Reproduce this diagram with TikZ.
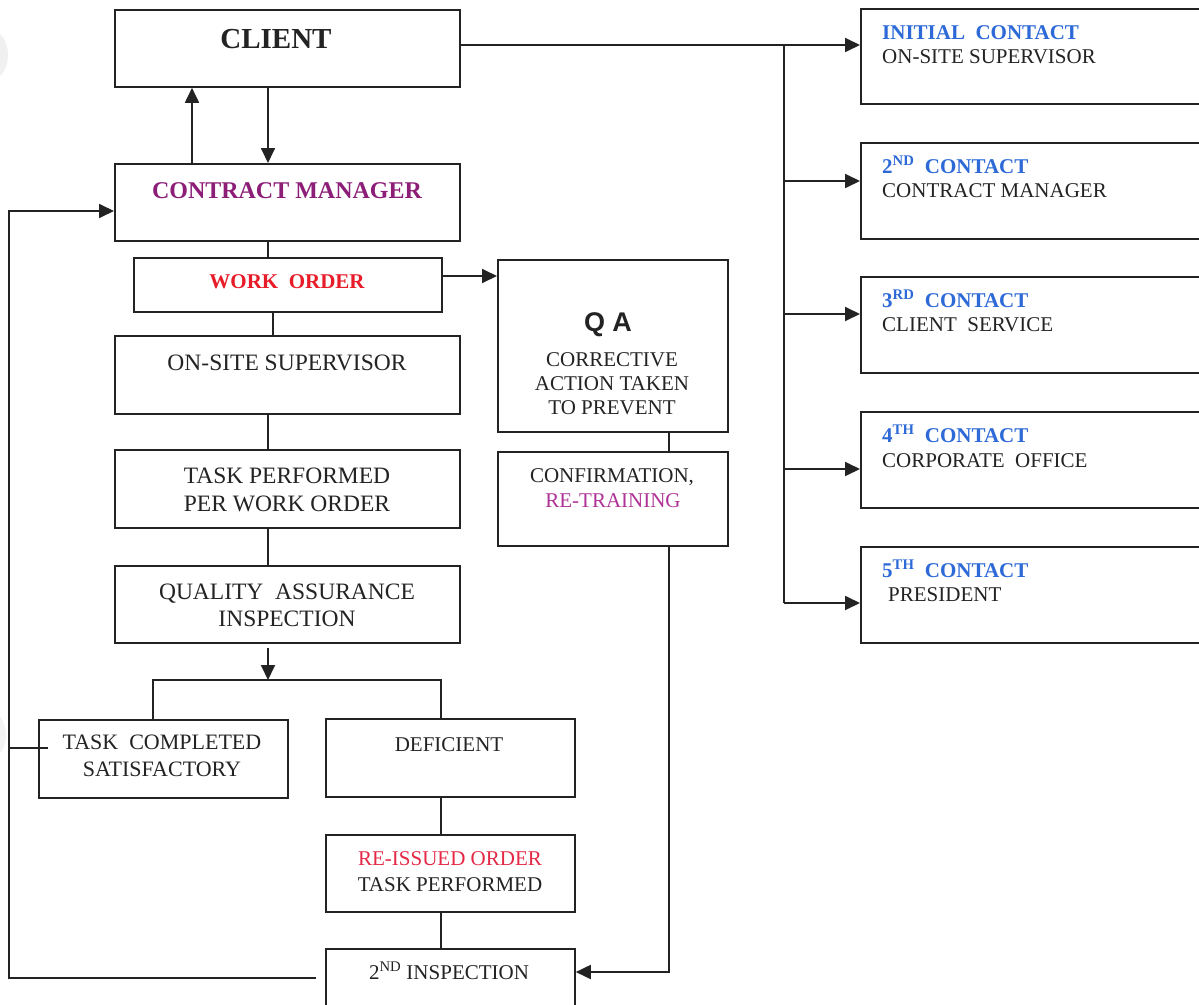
\documentclass[tikz,border=0pt]{standalone}
\usepackage{fontspec}
\setmainfont{Liberation Serif}
\newfontfamily\qafont{Liberation Sans}
\usetikzlibrary{arrows.meta}
\definecolor{cmpurple}{RGB}{140,30,120}
\definecolor{trpurple}{RGB}{175,50,150}
\definecolor{wored}{RGB}{232,28,40}
\definecolor{rired}{RGB}{228,40,70}
\definecolor{cblue}{RGB}{45,105,215}
\definecolor{ink}{RGB}{35,35,35}
\tikzset{
  box/.style={draw=ink, line width=1.8pt, inner sep=0pt, anchor=north west},
  ln/.style={draw=ink, line width=1.8pt},
  arr/.style={ln, -{Triangle[length=15pt,width=14pt]}},
  txt/.style={inner sep=0pt, anchor=base, text=ink, font=\fontsize{21}{25}\selectfont},
  txtl/.style={txt, anchor=base west},
  big/.style={txt, font=\fontsize{23.5}{28}\selectfont},
  head/.style={txtl, text=cblue, font=\fontsize{21}{25}\selectfont\bfseries},
}
\begin{document}
\begin{tikzpicture}[x=1pt,y=-1pt]
\useasboundingbox (0,0) rectangle (1199,1004);
\fill[white] (0,0) rectangle (1199,1004);
% faint scan shadows at the left edge
\fill[gray!12] (-8,55) ellipse (16 and 24);
\fill[gray!10] (-8,735) ellipse (14 and 22);

% ---------- boxes ----------
\node[box, minimum width=345pt, minimum height=77pt] (client) at (114,9) {};
\node[box, minimum width=345pt, minimum height=77pt] (cm) at (114,163) {};
\node[box, minimum width=308pt, minimum height=54pt] (wo) at (133,257) {};
\node[box, minimum width=345pt, minimum height=78pt] (oss) at (114,335) {};
\node[box, minimum width=345pt, minimum height=78pt] (tp) at (114,449) {};
\node[box, minimum width=345pt, minimum height=77pt] (qai) at (114,565) {};
\node[box, minimum width=249pt, minimum height=78pt] (tc) at (38,719) {};
\node[box, minimum width=249pt, minimum height=78pt] (def) at (325,718) {};
\node[box, minimum width=249pt, minimum height=77pt] (rei) at (325,834) {};
\node[box, minimum width=249pt, minimum height=70pt] (insp) at (325,948) {};
\node[box, minimum width=230pt, minimum height=172pt] (qa) at (497,259) {};
\node[box, minimum width=230pt, minimum height=94pt] (conf) at (497,451) {};
\node[box, minimum width=360pt, minimum height=95pt] (c1) at (860,8) {};
\node[box, minimum width=360pt, minimum height=96pt] (c2) at (860,142) {};
\node[box, minimum width=360pt, minimum height=96pt] (c3) at (860,276) {};
\node[box, minimum width=360pt, minimum height=96pt] (c4) at (860,411) {};
\node[box, minimum width=360pt, minimum height=96pt] (c5) at (860,546) {};

% ---------- texts ----------
\node[txt, font=\fontsize{29}{34}\selectfont\bfseries] (client-t) at (276,48) {CLIENT};
\node[txt, text=cmpurple, font=\fontsize{24}{28}\selectfont\bfseries] (cm-t) at (287,198) {CONTRACT MANAGER};
\node[txt, text=wored, font=\fontsize{21}{25}\selectfont\bfseries] (wo-t) at (287,288) {WORK\ \ ORDER};
\node[big] (oss-t) at (287,370) {ON-SITE SUPERVISOR};
\node[big] (tp-t1) at (287,483) {TASK PERFORMED};
\node[big] (tp-t2) at (287,511) {PER WORK ORDER};
\node[big] (qai-t1) at (287,599) {QUALITY\ \ ASSURANCE};
\node[big] (qai-t2) at (287,626) {INSPECTION};
\node[txt, font=\fontsize{22}{26}\selectfont] (tc-t1) at (162,749) {TASK\ \ COMPLETED};
\node[txt, font=\fontsize{22}{26}\selectfont] (tc-t2) at (162,776) {SATISFACTORY};
\node[txt] (def-t) at (449,751) {DEFICIENT};
\node[txt, text=rired] (rei-t1) at (450,865) {RE-ISSUED ORDER};
\node[txt] (rei-t2) at (450,891) {TASK PERFORMED};
\node[txt] (insp-t) at (449,979) {2\textsuperscript{ND} INSPECTION};
\node[txt, font=\fontsize{27}{31}\qafont\bfseries] (qa-t0) at (608,331) {Q A};
\node[txt] (qa-t1) at (612,366) {CORRECTIVE};
\node[txt] (qa-t2) at (612,390) {ACTION TAKEN};
\node[txt] (qa-t3) at (612,414) {TO PREVENT};
\node[txt] (conf-t1) at (612,482) {CONFIRMATION,};
\node[txt, text=trpurple] (conf-t2) at (613,507) {RE-TRAINING};

\node[head] (c1-h) at (882,39) {INITIAL\ \ CONTACT};
\node[txtl] (c1-t) at (882,63) {ON-SITE SUPERVISOR};
\node[head] (c2-h) at (882,173) {2\textsuperscript{ND}\ \ CONTACT};
\node[txtl] (c2-t) at (882,197) {CONTRACT MANAGER};
\node[head] (c3-h) at (882,307) {3\textsuperscript{RD}\ \ CONTACT};
\node[txtl] (c3-t) at (882,331) {CLIENT\ \ SERVICE};
\node[head] (c4-h) at (882,442) {4\textsuperscript{TH}\ \ CONTACT};
\node[txtl] (c4-t) at (882,467) {CORPORATE\ \ OFFICE};
\node[head] (c5-h) at (882,577) {5\textsuperscript{TH}\ \ CONTACT};
\node[txtl] (c5-t) at (888,601) {PRESIDENT};

% ---------- helper coordinates ----------
\coordinate (xa) at (268,0);
\coordinate (xb) at (192,0);
\coordinate (xw) at (273,0);
\coordinate (xl) at (153,0);
\coordinate (xr) at (441,0);
\coordinate (xq) at (669,0);
\coordinate (xf) at (9,0);
\coordinate (xt) at (784,0);
\coordinate (br) at (268,680);
\coordinate (ywo) at (0,276);
\coordinate (yi) at (0,972);
\coordinate (yb) at (0,978);
\coordinate (yt) at (0,748);
\coordinate (yc) at (0,211);
\coordinate (y1) at (0,45);
\coordinate (y2) at (0,181);
\coordinate (y3) at (0,314);
\coordinate (y4) at (0,469);
\coordinate (y5) at (0,603);

% ---------- connectors ----------
\draw[arr] (client.south -| xa) -- (cm.north -| xa);
\draw[arr] (cm.north -| xb) -- (client.south -| xb);
\draw[ln] (cm.south -| xa) -- (wo.north -| xa);
\draw[ln] (wo.south -| xw) -- (oss.north -| xw);
\draw[ln] (oss.south -| xa) -- (tp.north -| xa);
\draw[ln] (tp.south -| xa) -- (qai.north -| xa);
\draw[arr] ([yshift=-4pt]qai.south -| xa) -- (br);
\draw[ln] (tc.north -| xl) |- (br) -| (def.north -| xr);
\draw[ln] (def.south -| xr) -- (rei.north -| xr);
\draw[ln] (rei.south -| xr) -- (insp.north -| xr);
\draw[arr] (wo.east |- ywo) -- (qa.west |- ywo);
\draw[ln] (qa.south -| xq) -- (conf.north -| xq);
\draw[arr] (conf.south -| xq) |- (insp.east |- yi);
\draw[arr] ([xshift=-9pt]insp.west |- yb) -- (xf |- yb) |- (cm.west |- yc);
\draw[ln] ([xshift=10pt]tc.west |- yt) -- (xf |- yt);
\draw[arr] (client.east |- y1) -- (c1.west |- y1);
\draw[ln] (xt |- y1) -- (xt |- y5);
\draw[arr] (xt |- y2) -- (c2.west |- y2);
\draw[arr] (xt |- y3) -- (c3.west |- y3);
\draw[arr] (xt |- y4) -- (c4.west |- y4);
\draw[arr] (xt |- y5) -- (c5.west |- y5);
\end{tikzpicture}
\end{document}
